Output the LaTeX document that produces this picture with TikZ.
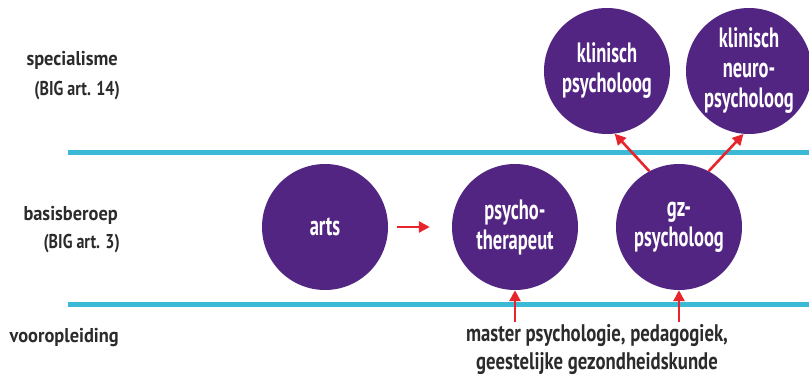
\documentclass[tikz,border=0pt]{standalone}
\usepackage{fontspec}
\setmainfont{PT Sans}
\newfontfamily\circfont[FakeStretch=0.66]{PT Sans}
\newfontfamily\labfont[FakeStretch=0.92]{PT Sans}
\newfontfamily\sublabfont[FakeStretch=0.8]{PT Sans}
\newfontfamily\botfont[FakeStretch=0.78]{PT Sans}
\usetikzlibrary{arrows.meta}
\definecolor{purp}{HTML}{532583}
\definecolor{cyanline}{HTML}{3BB9D6}
\definecolor{arrred}{HTML}{E8252D}
\definecolor{txt}{HTML}{2B2B2B}
\tikzset{
  role/.style={circle, fill=purp, minimum size=126pt, inner sep=0pt, text=white,
    font=\circfont\bfseries\fontsize{28}{30}\selectfont, align=center},
  lab/.style={text=txt, font=\labfont\bfseries\fontsize{20}{22}\selectfont, anchor=base east, inner sep=0pt},
  sublab/.style={text=txt, font=\sublabfont\bfseries\fontsize{20}{22}\selectfont, anchor=base east, inner sep=0pt},
  band/.style={draw=cyanline, line width=5pt},
  arr/.style={draw=arrred, line width=2.6pt, -{Triangle[length=11pt,width=11pt]}},
  bottomtxt/.style={text=txt, font=\botfont\bfseries\fontsize{24}{28}\selectfont, align=center, inner sep=0pt}
}
\begin{document}
\begin{tikzpicture}[x=1pt,y=-1pt]
\useasboundingbox (0,0) rectangle (809,375);
% bands
\coordinate (t1) at (68,152);
\coordinate (t2) at (809,152);
\coordinate (b1) at (68,304);
\coordinate (b2) at (809,304);
\draw[band] (t1) -- (t2);
\draw[band] (b1) -- (b2);
% labels
\node[lab] (spec) at (118,65) {specialisme};
\node[sublab] (big14) at (120,95) {(BIG art. 14)};
\node[lab] (basis) at (118,220) {basisberoep};
\node[sublab] (big3) at (120,248) {(BIG art. 3)};
\node[lab] (voor) at (119,342) {vooropleiding};
% circles
\node[role] (arts) at (325,227) {arts};
\node[role] (pt) at (515,227) {psycho-\\therapeut};
\node[role] (gz) at (679,227) {gz-\\psycholoog};
\node[role] (kp) at (607,71) {klinisch\\psycholoog};
\node[role] (knp) at (749,71) {klinisch\\neuro-\\psycholoog};
% bottom text
\node[bottomtxt] (master) at (597,350) {master psychologie, pedagogiek,\\geestelijke gezondheidskunde};
% arrows
\coordinate (s1) at (515,322);
\coordinate (s2) at (679,322);
\draw[arr] (s1) -- (pt.south);
\draw[arr] (s2) -- (gz.south);
\draw[arr, shorten <=9pt, shorten >=22pt] (arts.east) -- (pt.west);
\draw[arr] (gz.118) -- (kp.-83);
\draw[arr] (gz.62) -- (knp.-95);
\end{tikzpicture}
\end{document}
